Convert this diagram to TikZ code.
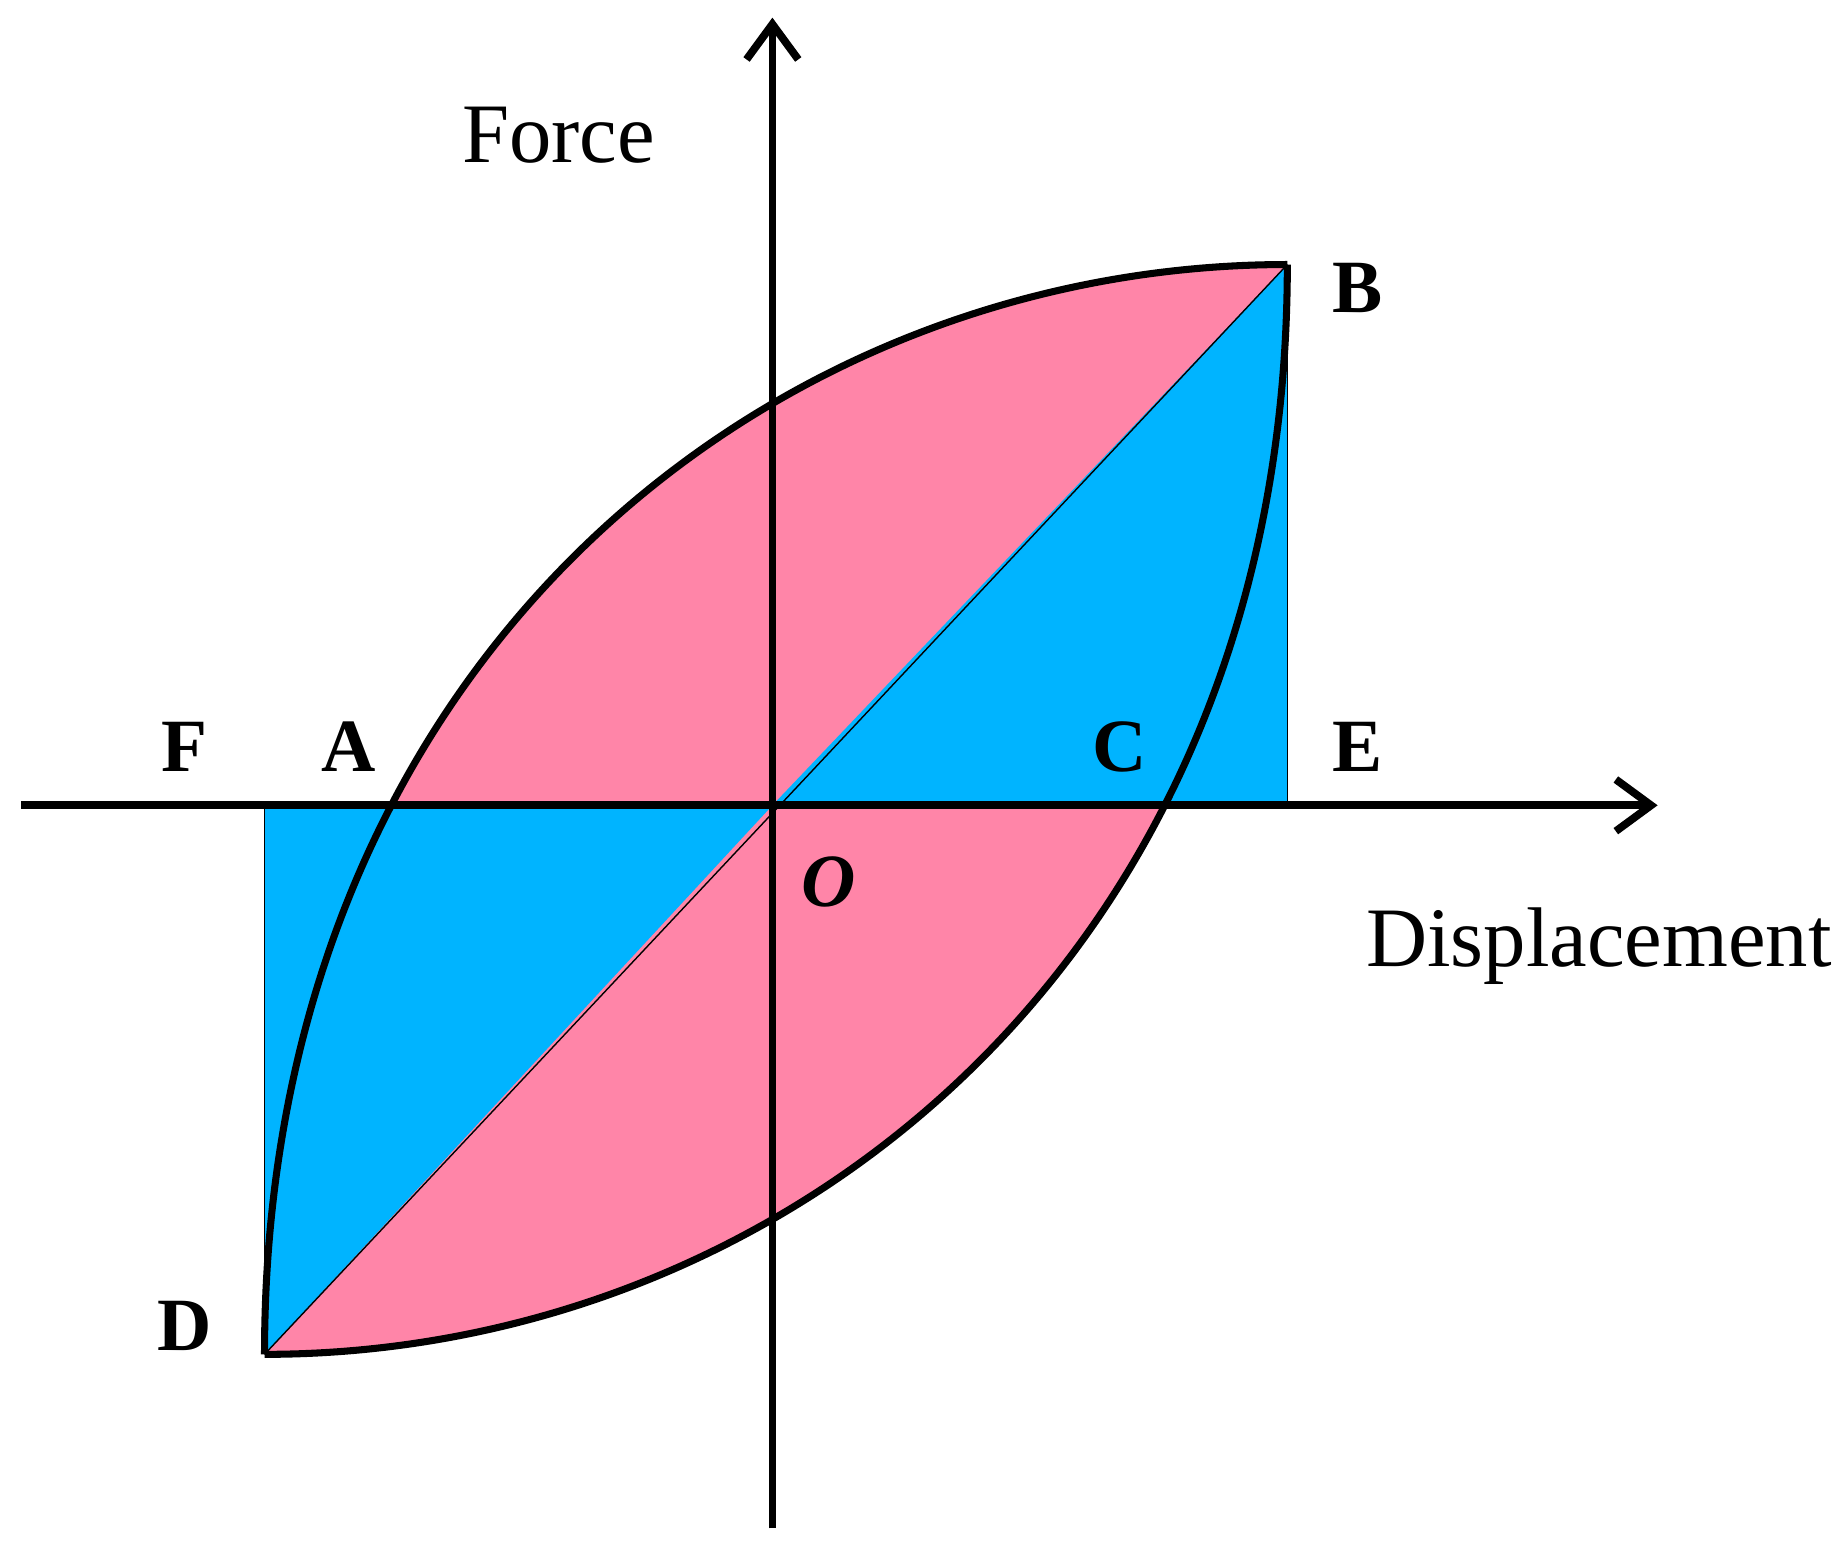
\documentclass[tikz,border=0pt]{standalone}
\usepackage{fontspec}
\setmainfont{Liberation Serif}
\usetikzlibrary{arrows.meta}
\definecolor{pk}{RGB}{255,133,168}
\definecolor{bl}{RGB}{0,180,255}
\begin{document}
\begin{tikzpicture}[x=0.5pt,y=-0.5pt,
  lbl/.style={font=\fontsize{32}{36}\selectfont\bfseries},
  axis/.style={line width=3.3pt,-{Straight Barb[length=15pt,width=22pt,line width=3.3pt]}},
  curve/.style={line width=3pt},
  thin/.style={line width=0.6pt}]
\useasboundingbox (0,0) rectangle (1560,1312);
\coordinate (O) at (657,685);
\coordinate (B) at (1095,225);
\coordinate (D) at (225,1152);
\coordinate (E) at (1095,685);
\coordinate (F) at (225,685);
% lens
\fill[pk] (D) .. controls (225,565) and (650,225) .. (B)
  .. controls (1095,812) and (670,1152) .. (D) -- cycle;
\fill[bl] (F) -- (O) -- (D) -- cycle;
\fill[bl] (O) -- (E) -- (B) -- cycle;
\draw[thin] (D) -- (B);
\draw[thin] (F) -- (D);
\draw[thin] (E) -- (B);
\draw[curve] (D) .. controls (225,565) and (650,225) .. (B);
\draw[curve] (D) .. controls (670,1152) and (1095,812) .. (B);
\coordinate (xs) at (18,685);
\coordinate (xe) at (1410,685);
\coordinate (ys) at (657,1300);
\coordinate (ye) at (657,15);
\draw[axis] (xs) -- (xe);
\draw[axis] (ys) -- (ye);
\node[font=\fontsize{36}{40}\selectfont] (force) at (475,115) {Force};
\node[font=\fontsize{36}{40}\selectfont] (disp) at (1360,805) {Displacement};
\node[lbl] (lB) at (1155,245) {B};
\node[lbl] (lE) at (1155,635) {E};
\node[lbl] (lC) at (952,635) {C};
\node[lbl] (lA) at (297,635) {A};
\node[lbl] (lF) at (157,635) {F};
\node[lbl] (lD) at (157,1128) {D};
\node[lbl,font=\fontsize{32}{36}\selectfont\bfseries\itshape] (lO) at (705,750) {O};
\end{tikzpicture}
\end{document}
